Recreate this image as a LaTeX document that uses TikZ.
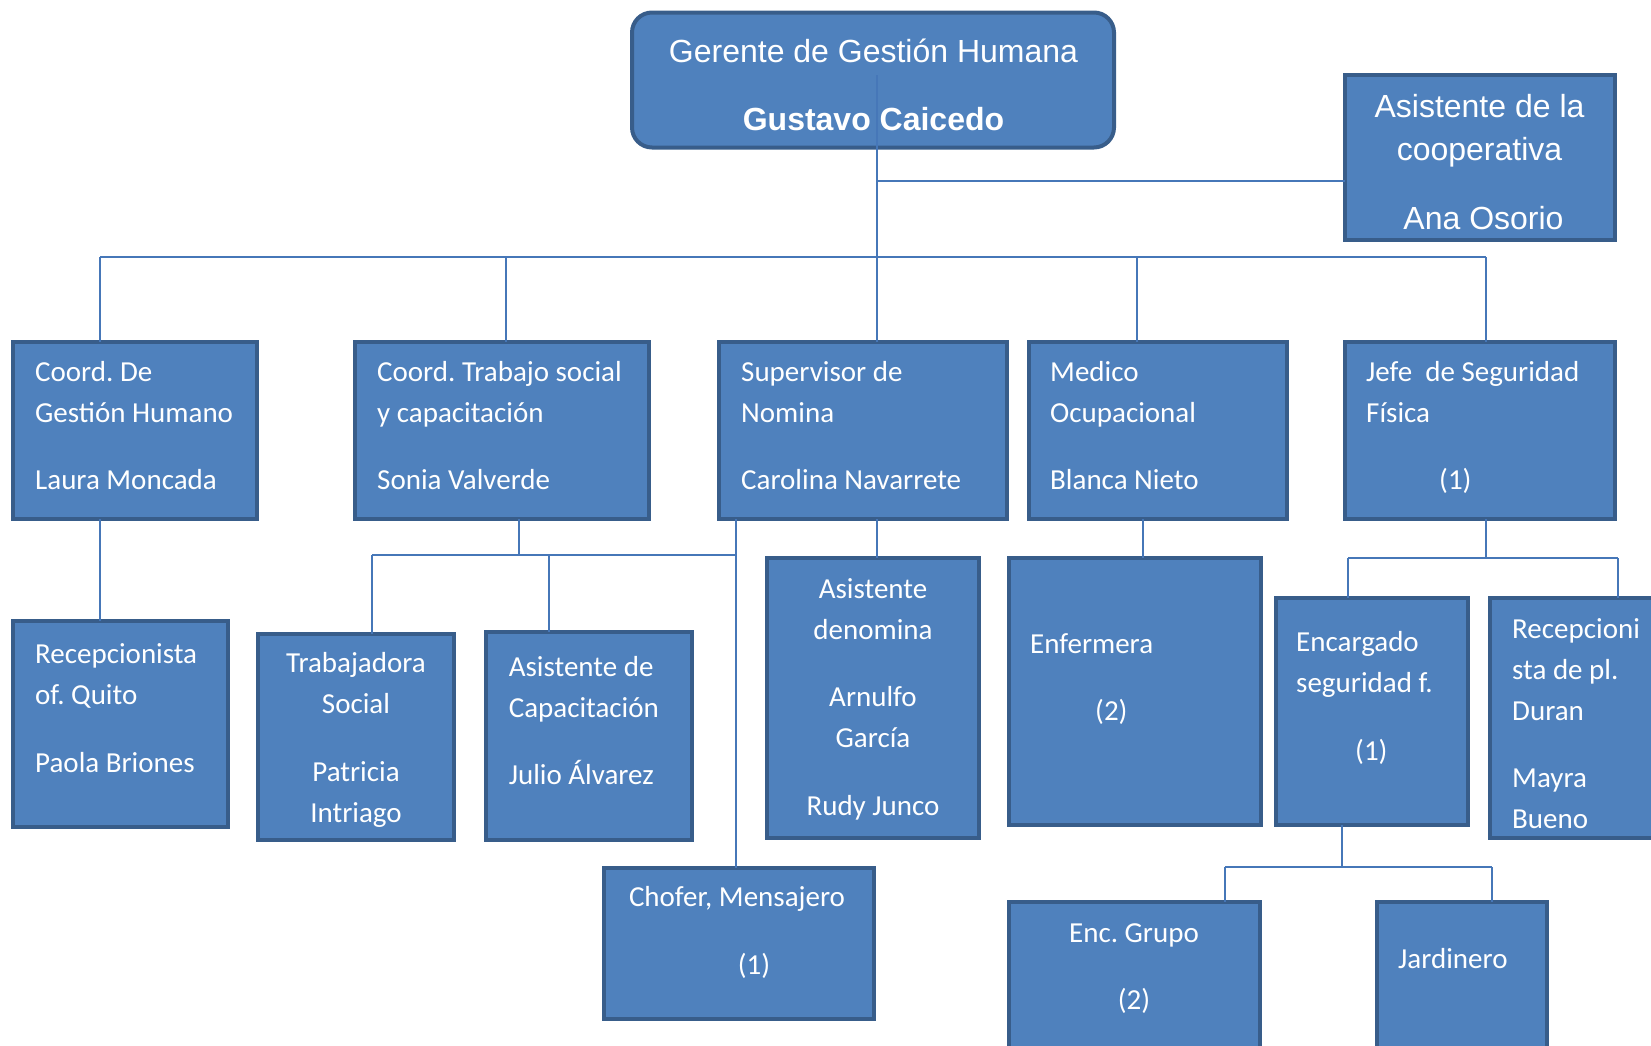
\documentclass[tikz,border=0pt]{standalone}
\usepackage{fontspec}
\setmainfont{Carlito}
\newfontfamily\arialfont{Liberation Sans}
\definecolor{azul}{HTML}{4F81BD}
\definecolor{borde}{HTML}{385D8A}
\definecolor{conector}{HTML}{4677B8}
\frenchspacing

\begin{document}
\begin{tikzpicture}[x=1pt,y=-1pt,
  cargo/.style={draw=borde,fill=azul,line width=4pt,inner sep=0pt,outer sep=0pt,anchor=north west},
  texto/.style={text=white,inner sep=0pt,align=left,anchor=north west,font=\fontsize{29}{41}\selectfont},
  centrado/.style={texto,align=center,anchor=north},
  titulo/.style={centrado,font=\arialfont\fontsize{32}{43.5}\selectfont},
  linea/.style={draw=conector,line width=2pt}]
\useasboundingbox (0,0) rectangle (1651,1045);
\clip (0,0) rectangle (1651,1045);

% cajas
\node[cargo,rounded corners=20pt,minimum width=482pt,minimum height=135pt] (ger) at (632,12.5) {};
\node[cargo,minimum width=270.8pt,minimum height=165.5pt] (asi) at (1344.6,74.7) {};
\node[cargo,minimum width=244.5pt,minimum height=177pt] (cgh) at (12.5,342) {};
\node[cargo,minimum width=294pt,minimum height=177pt] (cts) at (354.7,342) {};
\node[cargo,minimum width=287.8pt,minimum height=177pt] (sup) at (719,342) {};
\node[cargo,minimum width=258pt,minimum height=177pt] (med) at (1028.7,342) {};
\node[cargo,minimum width=270.8pt,minimum height=177pt] (jef) at (1344.6,342) {};
\node[cargo,minimum width=215pt,minimum height=205.7pt] (rq) at (12.5,621) {};
\node[cargo,minimum width=196pt,minimum height=206.6pt] (ts) at (257.9,633.8) {};
\node[cargo,minimum width=205.6pt,minimum height=208.7pt] (ac) at (486.4,631.7) {};
\node[cargo,minimum width=212.9pt,minimum height=280.4pt] (ad) at (766.5,558) {};
\node[cargo,minimum width=251.9pt,minimum height=266.7pt] (enf) at (1008.7,558) {};
\node[cargo,minimum width=192pt,minimum height=226.7pt] (esf) at (1276,598) {};
\node[cargo,minimum width=190pt,minimum height=240.4pt] (rd) at (1490,598) {};
\node[cargo,minimum width=269.7pt,minimum height=151.8pt] (cho) at (604.3,867.6) {};
\node[cargo,minimum width=250.8pt,minimum height=180pt] (eg) at (1008.7,902) {};
\node[cargo,minimum width=170pt,minimum height=180pt] (jar) at (1377,902) {};

% puntos de las lineas
\coordinate (tronco) at (877,257);
\coordinate (asi-l) at (878,181);
\coordinate (bus-w) at (100,257);
\coordinate (bus-e) at (1486,257);
\coordinate (bus-cts) at (506,257);
\coordinate (bus-med) at (1137,257);
\coordinate (ts-m) at (519,555);
\coordinate (ts-w) at (372,555);
\coordinate (ts-e) at (736,555);
\coordinate (ac-m) at (549,555);
\coordinate (enf-m) at (1143,540);
\coordinate (jef-m) at (1486,558);
\coordinate (jef-w) at (1348,558);
\coordinate (jef-e) at (1618,558);
\coordinate (esf-m) at (1342,867);
\coordinate (esf-w) at (1225,867);
\coordinate (esf-e) at (1492,867);

% lineas
\draw[linea] ([xshift=4pt,yshift=5pt]ger.center) -- (tronco);
\draw[linea] (asi-l) -- (asi-l -| asi.west);
\draw[linea] (bus-w) -- (bus-e);
\draw[linea] (bus-w) -- (bus-w |- cgh.north);
\draw[linea] (bus-cts) -- (bus-cts |- cts.north);
\draw[linea] (tronco) -- (tronco |- sup.north);
\draw[linea] (bus-med) -- (bus-med |- med.north);
\draw[linea] (bus-e) -- (bus-e |- jef.north);
\draw[linea] (bus-w |- cgh.south) -- (bus-w |- rq.north);
\draw[linea] (ts-m |- cts.south) -- (ts-m);
\draw[linea] (ts-w) -- (ts-e);
\draw[linea] (ts-w) -- (ts-w |- ts.north);
\draw[linea] (ac-m) -- (ac-m |- ac.north);
\draw[linea] (ts-e |- sup.south) -- (ts-e |- cho.north);
\draw[linea] (tronco |- sup.south) -- (tronco |- ad.north);
\draw[linea] (enf-m |- med.south) -- (enf-m |- enf.north);
\draw[linea] (jef-m |- jef.south) -- (jef-m);
\draw[linea] (jef-w) -- (jef-e);
\draw[linea] (jef-w) -- (jef-w |- esf.north);
\draw[linea] (jef-e) -- (jef-e |- rd.north);
\draw[linea] (esf-m |- esf.south) -- (esf-m);
\draw[linea] (esf-w) -- (esf-e);
\draw[linea] (esf-w) -- (esf-w |- eg.north);
\draw[linea] (esf-e) -- (esf-e |- jar.north);

% textos
\node[titulo] (ger-t) at (873.5,31.9) {\strut Gerente de Gestión Humana\\[24pt]\textbf{Gustavo Caicedo}};
\node[titulo] (asi-t) at (1479.5,86.4) {\strut Asistente de la\\cooperativa\\[25pt]\hspace*{8pt}Ana Osorio};
\node[texto] (cgh-t) at (35,352.8) {\strut Coord. De\\Gestión Humano\\[26pt]Laura Moncada};
\node[texto] (cts-t) at (377,352.8) {\strut Coord. Trabajo social\\y capacitación\\[26pt]Sonia Valverde};
\node[texto] (sup-t) at (741,352.8) {\strut Supervisor de\\Nomina\\[26pt]Carolina Navarrete};
\node[texto] (med-t) at (1050,352.8) {\strut Medico\\Ocupacional\\[26pt]Blanca Nieto};
\node[texto] (jef-t) at (1366,352.8) {\strut Jefe\ \ de Seguridad\\Física\\[26pt]\hspace*{73pt}(1)};
\node[texto] (rq-t) at (35,634.8) {\strut Recepcionista\\of. Quito\\[27pt]Paola Briones};
\node[centrado] (ts-t) at (356,643.8) {\strut Trabajadora\\Social\\[27pt]Patricia\\Intriago};
\node[texto] (ac-t) at (508.6,647.3) {\strut Asistente de\\Capacitación\\[26pt]Julio Álvarez};
\node[centrado] (ad-t) at (873,569.4) {\strut Asistente\\denomina\\[26pt]Arnulfo\\García\\[27pt]Rudy Junco};
\node[texto] (enf-t) at (1030,624.2) {\strut Enfermera\\[26pt]\hspace*{65pt}(2)};
\node[texto] (esf-t) at (1296,622.8) {\strut Encargado\\seguridad f.\\[27pt]\hspace*{59pt}(1)};
\node[texto] (rd-t) at (1512,609.4) {\strut Recepcioni\\sta de pl.\\Duran\\[26pt]Mayra\\Bueno};
\node[centrado] (cho-t) at (737,877.8) {\strut Chofer, Mensajero\\[27pt]\hspace*{34pt}(1)};
\node[centrado] (eg-t) at (1134,913.8) {\strut Enc. Grupo\\[26pt](2)};
\node[texto] (jar-t) at (1398,939.8) {\strut Jardinero};
\end{tikzpicture}
\end{document}
